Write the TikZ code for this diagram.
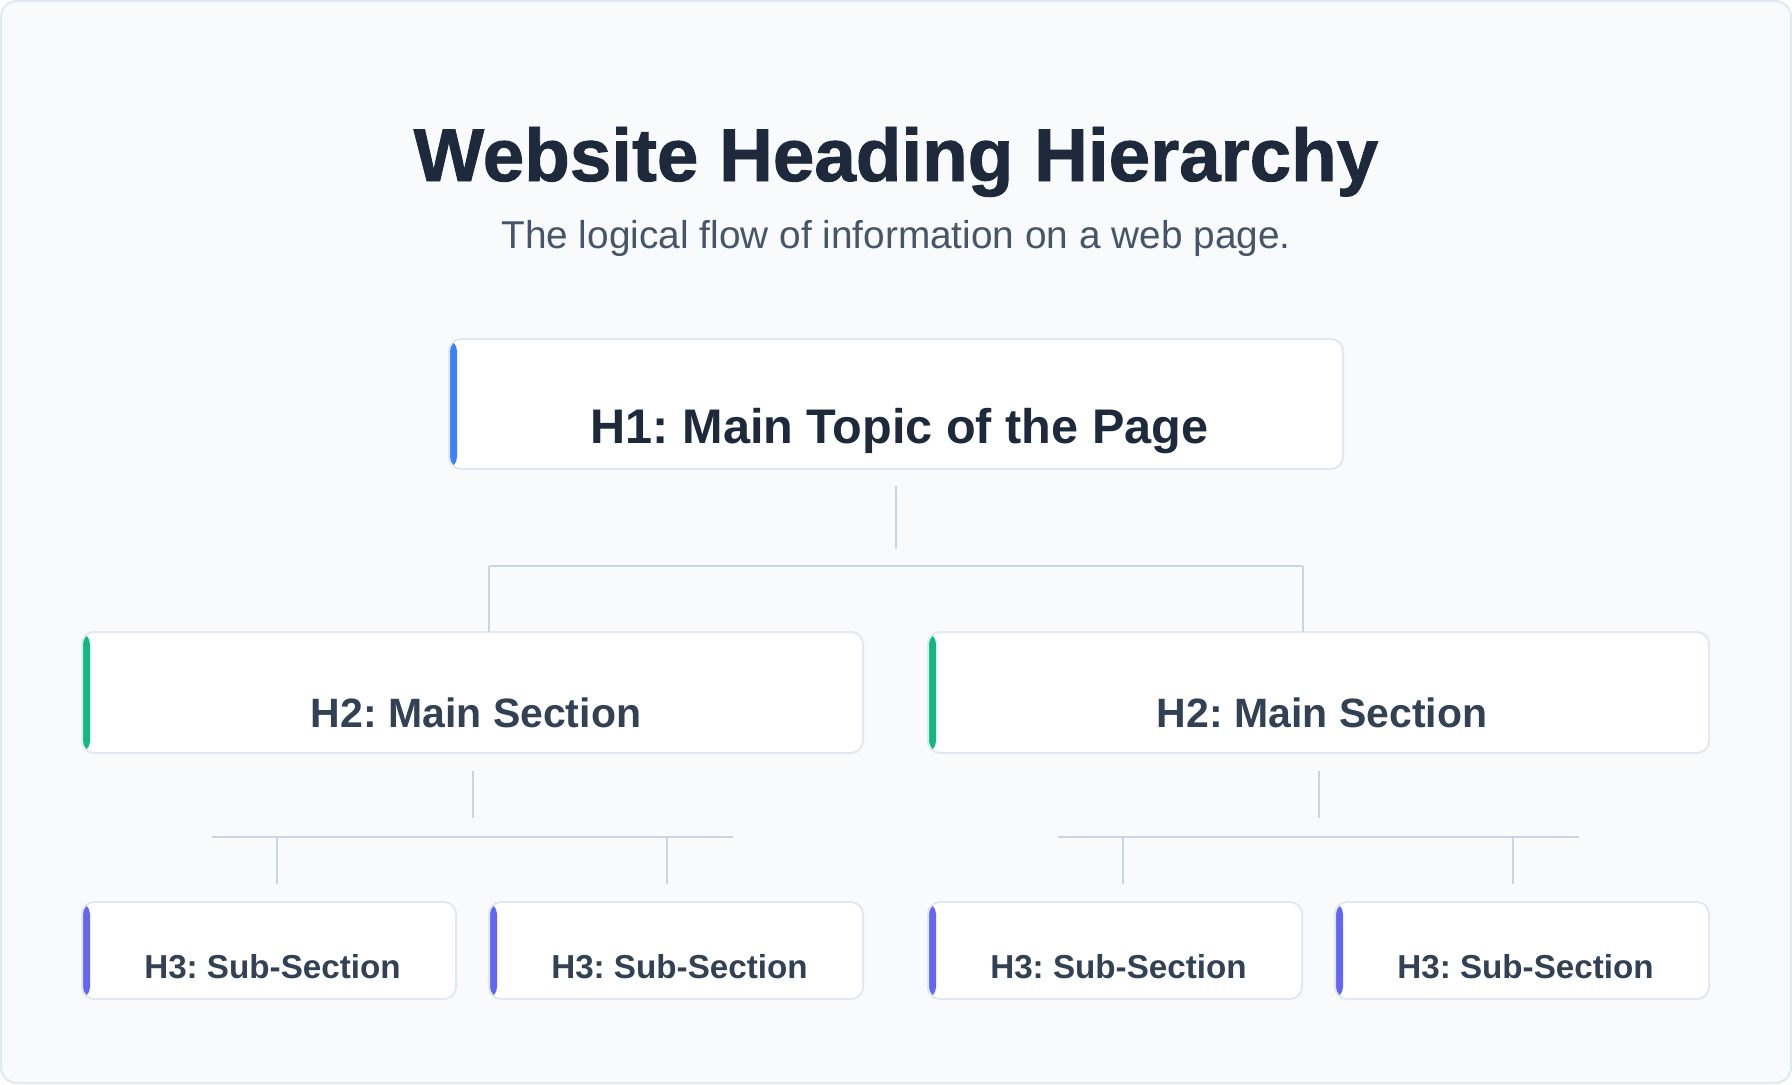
\documentclass[tikz,border=0pt]{standalone}
\usepackage{fontspec}
\setmainfont{Liberation Sans}
\newfontfamily\heavyfont{Liberation Sans Bold}[FakeBold=1.2]
\usetikzlibrary{positioning}

\definecolor{card}{HTML}{F8FAFC}
\definecolor{edge}{HTML}{E2E8F0}
\definecolor{link}{HTML}{CBD5E1}
\definecolor{titleink}{HTML}{1E293B}
\definecolor{subink}{HTML}{475569}
\definecolor{boxink}{HTML}{334155}
\definecolor{hone}{HTML}{3B82F6}
\definecolor{htwo}{HTML}{10B981}
\definecolor{hthree}{HTML}{6366F1}

\tikzset{
  headbox/.style={draw=edge, line width=1pt, fill=white, rounded corners=6pt,
    inner xsep=0pt, inner ysep=0pt, outer sep=0pt, anchor=north, align=center,
    execute at begin node=\hspace*{3.5pt},
    path picture={\fill[#1] (path picture bounding box.north west)
      rectangle ([xshift=4pt]path picture bounding box.south west);}},
  levelone/.style={headbox=hone, minimum width=447pt, text height=52pt, text depth=13pt,
    text=titleink, font=\fontsize{24.3pt}{30pt}\selectfont\bfseries},
  leveltwo/.style={headbox=htwo, minimum width=390.5pt, text height=47.5pt, text depth=13pt,
    text=boxink, font=\fontsize{20.5pt}{25pt}\selectfont\bfseries},
  levelthree/.style={headbox=hthree, minimum width=187pt, text height=38pt, text depth=10.5pt,
    text=boxink, font=\fontsize{16.6pt}{20pt}\selectfont\bfseries},
  linkline/.style={draw=link, line width=1pt}
}

\begin{document}
\frenchspacing
\begin{tikzpicture}[x=0.5pt, y=-0.5pt]
  \useasboundingbox (0,0) rectangle (1792,1084);
  \fill[white] (0,0) rectangle (1792,1084);
  \draw[edge, fill=card, line width=1pt, rounded corners=8pt] (1,1) rectangle (1791,1083);

  \node[anchor=base, text=titleink, font=\fontsize{37.3pt}{45pt}\selectfont\heavyfont] (title) at (896,181) {Website Heading Hierarchy};
  \node[anchor=base, text=subink, font=\fontsize{19.4pt}{23pt}\selectfont] (subtitle) at (896,248) {The logical flow of information on a web page.};

  \node[levelone] (h1) at (896,339) {H1: Main Topic of the Page};

  \node[leveltwo] (h2a) at (472.5,632) {H2: Main Section};
  \node[leveltwo] (h2b) at (1318.5,632) {H2: Main Section};

  \node[levelthree] (h3a) at (269,902) {H3: Sub-Section};
  \node[levelthree] (h3b) at (676,902) {H3: Sub-Section};
  \node[levelthree] (h3c) at (1115,902) {H3: Sub-Section};
  \node[levelthree] (h3d) at (1522,902) {H3: Sub-Section};

  \coordinate (busone) at (489,566);
  \coordinate (bustwo) at (1303,566);
  \coordinate (busa1) at (212,837);
  \coordinate (busa2) at (733,837);
  \coordinate (busb1) at (1058,837);
  \coordinate (busb2) at (1579,837);

  \draw[linkline] (h1.south) ++(0,17) -- ++(0,63);
  \draw[linkline] (busone) -- (bustwo);
  \draw[linkline] (busone) -- (busone |- h2a.north);
  \draw[linkline] (bustwo) -- (bustwo |- h2b.north);

  \draw[linkline] (h2a.south) ++(0,18) -- ++(0,47);
  \draw[linkline] (busa1) -- (busa2);
  \draw[linkline] (busa1 -| 277,0) -- ++(0,47);
  \draw[linkline] (busa1 -| 667,0) -- ++(0,47);

  \draw[linkline] (h2b.south) ++(0,18) -- ++(0,47);
  \draw[linkline] (busb1) -- (busb2);
  \draw[linkline] (busb1 -| 1123,0) -- ++(0,47);
  \draw[linkline] (busb1 -| 1513,0) -- ++(0,47);
\end{tikzpicture}
\end{document}
